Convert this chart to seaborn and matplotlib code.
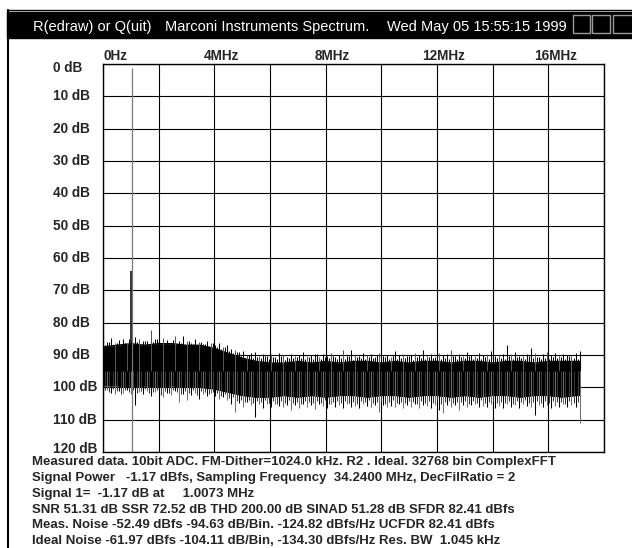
import numpy as np
import pandas as pd
import matplotlib
matplotlib.use("Agg")
import matplotlib.pyplot as plt
import matplotlib.transforms as mtransforms
from matplotlib.patches import Rectangle
from matplotlib.lines import Line2D
import seaborn as sns

sns.set_theme(style="white")
plt.rcParams["font.family"] = ["Liberation Sans", "DejaVu Sans"]

# spectrum (MHz / dB below full scale)
env_freq = [0, 0.5, 1.0, 1.5, 2.0, 2.5, 3.0, 3.5, 4.0, 4.5, 5.0, 5.5, 6.0, 6.5,
            7.0, 7.5, 8.0, 8.5, 9.0, 9.5, 10.0, 10.5, 11.0, 11.5, 12.0, 12.5,
            13.0, 13.5, 14.0, 14.5, 15.0, 15.5, 16.0, 16.5, 17.0, 17.12]
env_top = [87.5, 87, 86.5, 87, 86.5, 86.5, 87, 87, 88, 89.5, 91, 92, 92.5, 92.5,
           92, 92.5, 92, 92.5, 92, 92, 92.5, 92, 92.5, 92, 92, 92.5,
           92, 92, 92.5, 92, 92, 92.5, 92, 92, 92, 92]
env_bot = [99.5, 99.5, 100, 99.5, 100, 99.5, 100, 100, 100.5, 101.5, 102.5, 103, 103, 102.5,
           103, 102.5, 103, 102.5, 102.5, 103, 102.5, 102.5, 103, 102.5, 102.5, 103,
           102.5, 103, 102.5, 102.5, 103, 102.5, 102.5, 103, 102.5, 102.5]

# peaks above / dips below the noise floor, one per bin group (0 .. 17.12 MHz)
bin_freq = np.linspace(0, 17.12, 120)
up_db = [85.5, 86.0, 84.8, 86.2, 85.5, 85.0, 86.5, 85.8, 84.5, 85.2,
         85.8, 85.6, 82.3, 85.0, 86.0, 84.8, 85.5, 86.2, 84.2, 85.6,
         84.0, 85.8, 86.4, 85.2, 85.9, 86.5, 85.7, 86.2, 86.8, 86.3,
         87.5, 87.0, 88.0, 88.6, 89.2, 88.8, 89.9, 89.5, 89.0, 90.2,
         89.6, 90.4, 89.8, 90.6, 89.4, 90.1, 90.5, 89.7, 90.3, 89.9,
         89.2, 90.4, 90.0, 89.6, 90.5, 89.8, 90.2, 89.4, 90.6, 89.9,
         88.5, 90.3, 88.6, 89.8, 90.4, 89.5, 90.1, 89.7, 90.5, 89.3,
         90.2, 89.9, 90.6, 88.8, 90.0, 89.6, 90.4, 89.9, 89.3, 90.1,
         88.5, 90.3, 89.7, 90.5, 89.4, 90.0, 89.8, 88.5, 90.2, 89.6,
         90.4, 89.2, 89.9, 90.3, 89.5, 90.1, 89.7, 88.9, 90.2, 90.0,
         89.6, 87.0, 89.8, 89.1, 90.3, 90.4, 89.7, 87.9, 89.3, 90.5,
         89.8, 89.2, 90.1, 89.5, 90.3, 89.6, 89.9, 90.2, 89.4, 88.7]
down_db = [101.5, 100.8, 101.6, 102.2, 101.0, 101.8, 100.9, 102.0, 105.5, 101.4,
           102.2, 101.2, 102.6, 101.5, 102.0, 103.0, 101.6, 102.3, 101.2, 104.5,
           102.0, 104.0, 102.5, 101.8, 103.5, 102.2, 102.8, 101.9, 102.6, 103.5,
           103.0, 104.0, 105.0, 107.6, 104.8, 106.0, 104.5, 105.5, 109.2, 105.0,
           106.5, 105.2, 106.0, 105.0, 105.8, 106.2, 105.4, 107.0, 105.6, 106.3,
           105.1, 106.0, 105.5, 106.6, 105.2, 105.9, 106.4, 105.0, 106.1, 105.6,
           106.5, 105.3, 106.0, 105.7, 106.5, 105.2, 105.8, 106.2, 105.4, 107.6,
           105.5, 106.2, 105.8, 106.0, 105.3, 106.4, 105.6, 106.1, 105.2, 106.5,
           105.4, 105.9, 106.3, 105.5, 107.0, 108.0, 105.5, 106.0, 105.4, 107.0,
           105.6, 106.1, 105.5, 105.0, 106.2, 105.7, 106.0, 105.3, 106.4, 105.8,
           106.4, 105.2, 106.0, 105.6, 106.3, 105.1, 105.8, 106.2, 108.6, 105.5,
           106.0, 105.4, 106.3, 105.7, 106.0, 105.2, 106.1, 105.6, 106.0, 111.0]

# shorter fringe between those bins
mid_freq = (bin_freq[:-1] + bin_freq[1:]) / 2
up2_db = [86.8, 85.9, 87.0, 86.2, 86.9, 86.4, 85.2, 86.7, 86.0, 86.9,
          85.6, 86.8, 86.1, 84.9, 86.6, 86.3, 87.0, 85.5, 86.8, 86.2,
          86.9, 85.7, 86.5, 87.1, 86.0, 86.7, 87.2, 86.4,
          87.4, 88.2, 87.6, 88.8, 89.4, 89.0, 90.3, 90.8, 90.0, 91.0, 90.5,
          91.0, 90.4, 91.3, 90.7, 91.1, 90.2, 91.4, 90.8, 91.0, 90.5,
          90.9, 91.3, 90.6, 91.1, 89.8, 91.2, 90.7, 91.0, 90.4, 91.3,
          90.8, 91.1, 90.3, 91.4, 90.6, 90.9, 91.2, 90.5, 91.0, 89.9,
          91.3, 90.7, 91.1, 90.4, 91.2, 90.8, 91.0, 90.3, 91.4, 90.6,
          90.9, 91.2, 90.5, 91.0, 89.7, 91.3, 90.8, 91.1, 90.4, 91.2,
          90.7, 91.0, 90.2, 91.3, 90.9, 91.1, 90.5, 91.2, 90.6, 91.0,
          90.8, 91.3, 90.4, 91.1, 90.7, 90.9, 91.2, 90.3, 91.0, 90.6,
          91.1, 90.8, 91.3, 90.5, 91.0, 90.7, 91.2, 90.4, 90.9, 91.1]
down2_db = [100.8, 101.5, 100.6, 101.2, 102.0, 100.9, 101.4, 100.7, 101.8, 101.1,
            100.6, 101.9, 101.3, 100.8, 102.4, 101.0, 101.6, 100.9, 101.3, 102.1,
            101.0, 101.7, 100.8, 102.3, 101.2, 101.5, 102.0, 101.4,
            101.8, 102.6, 102.2, 103.4, 103.0, 104.2, 103.8, 104.5, 104.0, 104.8, 104.3,
            104.6, 104.0, 104.9, 104.3, 105.1, 104.2, 104.7, 103.9, 104.8, 104.4,
            105.0, 104.1, 104.6, 104.9, 104.2, 104.7, 104.0, 105.2, 104.5, 104.3,
            104.8, 104.1, 104.9, 104.4, 105.0, 104.2, 104.6, 104.0, 104.8, 104.5,
            104.3, 105.1, 104.6, 104.0, 104.7, 104.4, 104.9, 104.2, 104.6, 105.0,
            104.1, 104.8, 104.3, 104.7, 104.0, 105.1, 104.5, 104.2, 104.9, 104.4,
            104.6, 104.1, 105.0, 104.3, 104.7, 104.0, 104.8, 104.5, 104.2, 104.9,
            104.4, 104.7, 104.1, 105.0, 104.3, 104.6, 104.0, 104.8, 104.5, 104.2,
            104.9, 104.3, 104.7, 104.1, 104.6, 104.4, 105.0, 104.2, 104.8, 104.5]

signal_freq = 1.0073
signal_db = 64
marker_freq = 1.04

db_ticks = list(range(0, 121, 10))
freq_ticks = [0, 4, 8, 12, 16]
freq_labels = ["0Hz", "4MHz", "8MHz", "12MHz", "16MHz"]

title_parts = ["R(edraw) or Q(uit)", "Marconi Instruments Spectrum.",
               "Wed May 05 15:55:15 1999"]
info_lines = [
    "Measured data. 10bit ADC. FM-Dither=1024.0 kHz. R2 . Ideal. 32768 bin ComplexFFT",
    "Signal Power   -1.17 dBfs, Sampling Frequency  34.2400 MHz, DecFilRatio = 2",
    "Signal 1=  -1.17 dB at     1.0073 MHz",
    "SNR 51.31 dB SSR 72.52 dB THD 200.00 dB SINAD 51.28 dB SFDR 82.41 dBfs",
    "Meas. Noise -52.49 dBfs -94.63 dB/Bin. -124.82 dBfs/Hz UCFDR 82.41 dBfs",
    "Ideal Noise -61.97 dBfs -104.11 dB/Bin, -134.30 dBfs/Hz Res. BW  1.045 kHz",
]

W, H = 632, 548
fig = plt.figure(figsize=(W / 100, H / 100), dpi=100)
fig.patch.set_facecolor("white")
ax = fig.add_axes([103 / W, 1 - 452 / H, 501 / W, 388 / H])

env = pd.DataFrame({"freq": env_freq, "top": env_top, "bot": env_bot})
ax.fill_between(env["freq"], env["top"], env["bot"], color="black", lw=0)
sns.lineplot(data=env, x="freq", y="top", ax=ax, color="black", lw=1)
sns.lineplot(data=env, x="freq", y="bot", ax=ax, color="black", lw=1)

up_cols = ["black" if i % 3 else "#555555" for i in range(len(bin_freq))]
down_cols = ["black" if i % 2 == 0 else "#6e6e6e" for i in range(len(bin_freq))]
ax.vlines(mid_freq, 95, up2_db, color="black", lw=0.75)
ax.vlines(mid_freq, 95, down2_db, color="#3a3a3a", lw=0.75)
ax.vlines(bin_freq, 95, up_db, colors=up_cols, lw=0.75)
ax.vlines(bin_freq, 95, down_db, colors=down_cols, lw=0.75)
ax.vlines([marker_freq], 1.2, 120, color="#7a7a7a", lw=0.9)
ax.vlines([signal_freq], 92, signal_db, color="black", lw=1.1)

ax.set_xlim(0, 18)
ax.set_ylim(120, 0)
ax.set_xticks(np.arange(0, 19, 2))
ax.set_yticks(db_ticks)
ax.grid(True, color="black", lw=0.8)
ax.set_axisbelow(True)
ax.tick_params(length=0, labelleft=False, labelbottom=False)
ax.set_xlabel("")
ax.set_ylabel("")
for s in ax.spines.values():
    s.set_color("black")
    s.set_linewidth(1)

# axis labels, drawn like the instrument does
ylab_tr = mtransforms.blended_transform_factory(fig.transFigure, ax.transData)
for d in db_ticks:
    yy = 1.3 if d == 0 else (119.2 if d == 120 else d)
    fig.text(53 / W, yy, f"{d} dB", transform=ylab_tr, ha="left", va="center",
             fontsize=9.8, fontweight="bold")

xlab_tr = mtransforms.blended_transform_factory(ax.transData, fig.transFigure)
for f, lab in zip(freq_ticks, freq_labels):
    if f == 0:
        ax.text(f, 1 - 56 / H, lab, transform=xlab_tr, ha="left", va="center",
                fontsize=9.8, fontweight="bold")
    else:
        tr = mtransforms.offset_copy(xlab_tr, fig=fig, x=7, y=0, units="dots")
        ax.text(f, 1 - 56 / H, lab, transform=tr, ha="center", va="center",
                fontsize=9.8, fontweight="bold")

# title bar and frame
fig.patches.append(Rectangle((7 / W, 1 - 38 / H), 1 - 7 / W, 26 / H,
                             transform=fig.transFigure, color="black", zorder=0))
fig.lines.append(Line2D([7 / W, 1], [1 - 10 / H] * 2, transform=fig.transFigure,
                        color="black", lw=1))
fig.lines.append(Line2D([8 / W] * 2, [0, 1 - 10 / H], transform=fig.transFigure,
                        color="black", lw=1.5))
for x0, x1 in [(573, 590), (592, 610), (613, 633)]:
    fig.patches.append(Rectangle((x0 / W, 1 - 33 / H), (x1 - x0) / W, 18 / H,
                                 transform=fig.transFigure, facecolor="none",
                                 edgecolor="#9a9a9a", lw=1))

for x0, part in zip([33, 165, 387], title_parts):
    fig.text(x0 / W, 1 - 27 / H, part, color="white", ha="left", va="center",
             fontsize=10.5)

for i, line in enumerate(info_lines):
    fig.text(32 / W, 1 - (462.5 + 15.7 * i) / H, line, ha="left", va="center",
             fontsize=9.5, fontweight="bold")

fig.savefig("out.png", dpi=100)
